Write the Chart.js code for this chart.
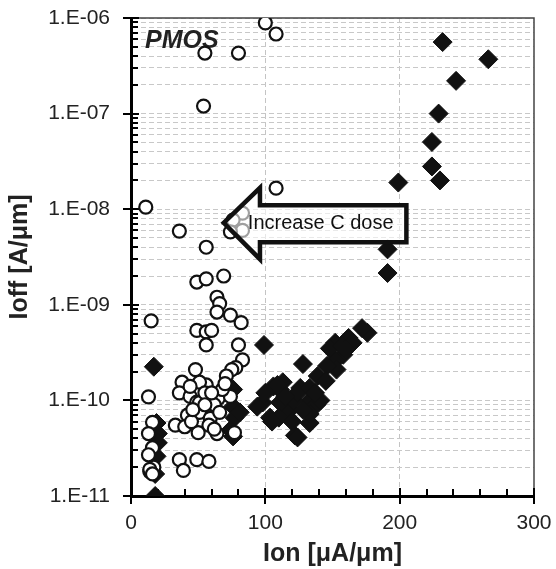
<!DOCTYPE html>
<html>
<head>
<meta charset="utf-8">
<script src="https://cdn.jsdelivr.net/npm/chart.js@4.4.0/dist/chart.umd.min.js"></script>
<style>
html, body { margin: 0; padding: 0; background: #fff; }
canvas { display: block; }
</style>
</head>
<body>
<canvas id="c" width="556" height="569"></canvas>
<script>
// open circles
const circleIon = [100, 108, 55, 80, 54, 108, 11, 36, 56, 83, 76, 83, 74,
  49, 56, 69, 64, 66, 64, 74, 82, 15, 49, 56, 60, 56, 80, 83, 78, 75, 48, 71,
  38, 56, 51, 36, 44, 13, 49, 51, 65, 74, 42, 51, 59, 33, 40, 50, 64, 77,
  16, 13, 16, 13, 17, 14, 36, 39, 49, 58, 55, 62, 45, 58, 68, 14, 16,
  70, 60, 46, 66, 55, 44, 62];
const circleIoff = [8.9e-7, 6.8e-7, 4.3e-7, 4.3e-7, 1.2e-7, 1.66e-8, 1.05e-8, 5.9e-9, 4.0e-9, 9.1e-9, 7.7e-9, 6.0e-9, 5.8e-9,
  1.73e-9, 1.87e-9, 2.0e-9, 1.2e-9, 1.03e-9, 8.4e-10, 7.8e-10, 6.5e-10, 6.8e-10, 5.4e-10, 5.2e-10, 5.4e-10, 3.8e-10, 3.8e-10, 2.65e-10, 2.2e-10, 2.1e-10, 2.1e-10, 1.8e-10,
  1.55e-10, 1.45e-10, 1.55e-10, 1.2e-10, 1.1e-10, 1.09e-10, 9.6e-11, 9.5e-11, 1.05e-10, 1.1e-10, 7.0e-11, 7.5e-11, 6.5e-11, 5.5e-11, 5.3e-11, 4.6e-11, 4.5e-11, 4.6e-11,
  5.9e-11, 4.5e-11, 3.2e-11, 2.7e-11, 2.0e-11, 1.8e-11, 2.4e-11, 1.85e-11, 2.4e-11, 2.3e-11, 1.2e-10, 9e-11, 6e-11, 5.5e-11, 1.3e-10, 1.9e-11, 1.7e-11,
  1.5e-10, 1.2e-10, 8e-11, 7.5e-11, 9e-11, 1.4e-10, 5e-11];

// filled diamonds
const diamondIon = [232, 266, 242, 229, 224, 224, 230, 199, 191, 191,
  176, 172, 162, 152, 158, 152, 153, 146, 139, 128, 148, 157, 99,
  111, 126, 133, 138, 133, 122, 118, 103.5, 98, 111, 121, 94, 106, 113, 124, 133, 141, 133, 110, 124,
  76, 76, 77, 74, 76, 81, 105, 109,
  17, 19, 20, 20, 19, 18, 18,
  115, 128, 100, 120, 137, 145, 165, 160];
const diamondIoff = [5.6e-7, 3.7e-7, 2.2e-7, 1.0e-7, 5.05e-8, 2.8e-8, 2.0e-8, 1.9e-8, 3.8e-9, 2.15e-9,
  5.1e-10, 5.7e-10, 4.5e-10, 4.0e-10, 3.0e-10, 2.6e-10, 2.1e-10, 2.3e-10, 1.8e-10, 2.4e-10, 3.5e-10, 3.7e-10, 3.8e-10,
  1.29e-10, 1.35e-10, 1.0e-10, 9.0e-11, 5.8e-11, 4.3e-11, 7.9e-11, 6.6e-11, 9.5e-11, 9.5e-11, 1.0e-10, 8.6e-11, 1.4e-10, 1.55e-10, 1.2e-10, 1.35e-10, 1.0e-10, 7.2e-11, 6.6e-11, 4.1e-11,
  1.3e-10, 8.6e-11, 6.6e-11, 4.9e-11, 4.2e-11, 7.5e-11, 6e-11, 1.45e-10,
  2.25e-10, 5.8e-11, 4.5e-11, 3.6e-11, 2.6e-11, 1.7e-11, 1.0e-11,
  1.1e-10, 8e-11, 1.2e-10, 6e-11, 1.2e-10, 1.6e-10, 4e-10, 3.4e-10];

const xTickValues = [0, 100, 200, 300];
const yMajorTicks = [1e-11, 1e-10, 1e-9, 1e-8, 1e-7, 1e-6];
const yTickLabels = ['1.E-11', '1.E-10', '1.E-09', '1.E-08', '1.E-07', '1.E-06'];

// arrow annotation in data units
const arrowTip = [69, 7.2e-9];
const arrowHeadX = 96;
const arrowHeadTop = 1.67e-8, arrowHeadBottom = 3.0e-9;
const arrowBodyTop = 1.1e-8, arrowBodyBottom = 4.5e-9;
const arrowEndX = 205;
const arrowText = 'Increase C dose';

const FONT = "'Liberation Sans', Arial, Helvetica, sans-serif";

const yAllTicks = [];
yMajorTicks.forEach((v, i) => {
  if (i === yMajorTicks.length - 1) { yAllTicks.push(v); return; }
  for (let m = 1; m <= 9; m++) yAllTicks.push(m * v);
});

const decor = {
  id: 'decor',
  beforeDatasetsDraw(chart) {
    const { ctx, chartArea: a, scales: { x, y } } = chart;
    ctx.save();
    // top + right frame
    ctx.strokeStyle = '#444';
    ctx.lineWidth = 1.5;
    ctx.beginPath();
    ctx.moveTo(a.left, a.top); ctx.lineTo(a.right, a.top); ctx.lineTo(a.right, a.bottom);
    ctx.stroke();
    // tick marks
    ctx.strokeStyle = '#000';
    ctx.lineWidth = 2;
    ctx.beginPath();
    yAllTicks.forEach(v => {
      const py = Math.round(y.getPixelForValue(v));
      const major = yMajorTicks.includes(v);
      ctx.moveTo(a.left - (major ? 8 : 0), py);
      ctx.lineTo(a.left + (major ? 8 : 7), py);
    });
    for (let v = 0; v <= 300; v += 20) {
      const px = Math.round(x.getPixelForValue(v));
      const major = xTickValues.includes(v);
      ctx.moveTo(px, a.bottom + (major ? 8 : 0));
      ctx.lineTo(px, a.bottom - (major ? 8 : 7));
    }
    ctx.stroke();
    // label
    ctx.fillStyle = '#222';
    ctx.font = 'italic bold 25px ' + FONT;
    ctx.textAlign = 'left';
    ctx.textBaseline = 'alphabetic';
    ctx.fillText('PMOS', a.left + 14, a.top + 30);
    ctx.restore();
  },
  afterDatasetsDraw(chart) {
    const { ctx, scales: { x, y } } = chart;
    const tx = x.getPixelForValue(arrowTip[0]), ty = y.getPixelForValue(arrowTip[1]);
    const hx = x.getPixelForValue(arrowHeadX), ex = x.getPixelForValue(arrowEndX);
    const ht = y.getPixelForValue(arrowHeadTop), hb = y.getPixelForValue(arrowHeadBottom);
    const bt = y.getPixelForValue(arrowBodyTop), bb = y.getPixelForValue(arrowBodyBottom);
    ctx.save();
    ctx.beginPath();
    ctx.moveTo(tx, ty);
    ctx.lineTo(hx, ht);
    ctx.lineTo(hx, bt);
    ctx.lineTo(ex, bt);
    ctx.lineTo(ex, bb);
    ctx.lineTo(hx, bb);
    ctx.lineTo(hx, hb);
    ctx.closePath();
    ctx.fillStyle = 'rgba(255,255,255,0.6)';
    ctx.fill();
    ctx.lineWidth = 4.5;
    ctx.lineJoin = 'miter';
    ctx.strokeStyle = '#111';
    ctx.stroke();
    ctx.fillStyle = '#111';
    ctx.font = '20px ' + FONT;
    ctx.textAlign = 'left';
    ctx.textBaseline = 'middle';
    ctx.fillText(arrowText, x.getPixelForValue(87), ty + 1);
    ctx.restore();
  }
};

new Chart(document.getElementById('c'), {
  type: 'scatter',
  data: {
    datasets: [
      {
        label: 'open',
        data: circleIon.map((v, i) => ({ x: v, y: circleIoff[i] })),
        pointStyle: 'circle',
        pointRadius: 6.5,
        pointBorderWidth: 2.2,
        pointBorderColor: '#111',
        pointBackgroundColor: '#fff'
      },
      {
        label: 'filled',
        data: diamondIon.map((v, i) => ({ x: v, y: diamondIoff[i] })),
        pointStyle: 'rectRot',
        pointRadius: 9.5,
        pointBorderWidth: 1,
        pointBorderColor: '#111',
        pointBackgroundColor: '#111'
      }
    ]
  },
  options: {
    responsive: false,
    animation: false,
    devicePixelRatio: 1,
    layout: { padding: { left: 0, right: 22, top: 18, bottom: 0 } },
    plugins: { legend: { display: false }, tooltip: { enabled: false } },
    scales: {
      x: {
        type: 'linear',
        min: 0, max: 300,
        afterBuildTicks: s => { s.ticks = xTickValues.map(v => ({ value: v })); },
        afterFit: s => { s.height = 73; s.paddingLeft = 0; s.paddingRight = 0; },
        grid: { color: c => (c.tick && (c.tick.value === 100 || c.tick.value === 200)) ? '#c4c4c4' : 'rgba(0,0,0,0)', lineWidth: 1, drawTicks: false },
        border: { color: '#000', width: 3, dash: [5, 3] },
        ticks: { color: '#222', padding: 15, font: { family: FONT, size: 21 }, maxRotation: 0 },
        title: { display: true, text: 'Ion [\u03BCA/\u03BCm]', color: '#222', padding: { top: 0, bottom: 0 }, font: { family: FONT, size: 25, weight: 'bold' } }
      },
      y: {
        type: 'logarithmic',
        min: 1e-11, max: 1e-6,
        afterBuildTicks: s => { s.ticks = yAllTicks.map(v => ({ value: v })); },
        afterFit: s => { s.width = 131; s.paddingTop = 0; s.paddingBottom = 0; },
        grid: { color: '#c8c8c8', lineWidth: 1, drawTicks: false },
        border: { color: '#000', width: 3, dash: [5, 3] },
        ticks: {
          autoSkip: false,
          color: '#222',
          padding: 21,
          font: { family: FONT, size: 21 },
          callback: v => { const i = yMajorTicks.indexOf(v); return i >= 0 ? yTickLabels[i] : ''; }
        },
        title: { display: true, text: 'Ioff [A/\u03BCm]', color: '#222', padding: { top: 5, bottom: 0 }, font: { family: FONT, size: 25, weight: 'bold' } }
      }
    }
  },
  plugins: [decor]
});
</script>
</body>
</html>
